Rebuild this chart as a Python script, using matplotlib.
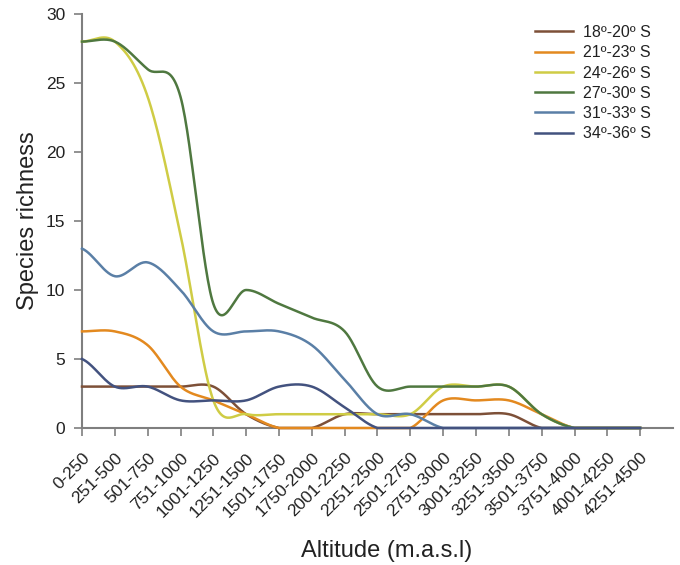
import matplotlib
matplotlib.use("Agg")
import matplotlib.pyplot as plt
import numpy as np

plt.rcParams['font.family'] = ['Liberation Sans', 'DejaVu Sans']

# Altitude bands (m.a.s.l)
altitudes = ['0-250', '251-500', '501-750', '751-1000', '1001-1250', '1251-1500',
             '1501-1750', '1750-2000', '2001-2250', '2251-2500', '2501-2750',
             '2751-3000', '3001-3250', '3251-3500', '3501-3750', '3751-4000',
             '4001-4250', '4251-4500']

# Species richness per latitude band
lat_18_20 = [3, 3, 3, 3, 3, 1, 0, 0, 1, 1, 1, 1, 1, 1, 0, 0, 0, 0]
lat_21_23 = [7, 7, 6, 3, 2, 1, 0, 0, 0, 0, 0, 2, 2, 2, 1, 0, 0, 0]
lat_24_26 = [28, 28, 24, 14, 2, 1, 1, 1, 1, 1, 1, 3, 3, 3, 1, 0, 0, 0]
lat_27_30 = [28, 28, 26, 24, 9, 10, 9, 8, 7, 3, 3, 3, 3, 3, 1, 0, 0, 0]
lat_31_33 = [13, 11, 12, 10, 7, 7, 7, 6, 3.5, 1, 1, 0, 0, 0, 0, 0, 0, 0]
lat_34_36 = [5, 3, 3, 2, 2, 2, 3, 3, 1.5, 0, 0, 0, 0, 0, 0, 0, 0, 0]

labels = ['18º-20º S', '21º-23º S', '24º-26º S', '27º-30º S', '31º-33º S', '34º-36º S']
colors = ['#7d5038', '#e3891f', '#cfcc45', '#4f7840', '#5a7fa6', '#43527f']
series = [lat_18_20, lat_21_23, lat_24_26, lat_27_30, lat_31_33, lat_34_36]


def smooth(values, steps=30):
    # Excel-like smoothed line (Catmull-Rom through the points)
    y = np.asarray(values, dtype=float)
    n = len(y)
    yp = np.concatenate([[y[0]], y, [y[-1]]])
    xs, ys = [], []
    t = np.linspace(0, 1, steps, endpoint=False)
    for i in range(n - 1):
        p0, p1, p2, p3 = yp[i], yp[i + 1], yp[i + 2], yp[i + 3]
        m1 = (p2 - p0) / 2
        m2 = (p3 - p1) / 2
        h00 = 2 * t**3 - 3 * t**2 + 1
        h10 = t**3 - 2 * t**2 + t
        h01 = -2 * t**3 + 3 * t**2
        h11 = t**3 - t**2
        xs.append(i + t)
        ys.append(h00 * p1 + h10 * m1 + h01 * p2 + h11 * m2)
    xs.append([n - 1])
    ys.append([y[-1]])
    return np.concatenate(xs), np.clip(np.concatenate(ys), 0, None)


fig = plt.figure(figsize=(6.8, 5.65), dpi=100)
ax = fig.add_axes([82 / 680, 1 - 428 / 565, (673 - 82) / 680, (428 - 14) / 565])

x = np.arange(len(altitudes))
for vals, lab, col in zip(series, labels, colors):
    sx, sy = smooth(vals)
    ax.plot(sx, sy, color=col, linewidth=1.8, label=lab, zorder=3, clip_on=False)

ax.set_xlim(0, len(altitudes))
ax.set_ylim(0, 30)
ax.set_yticks(range(0, 31, 5))
ax.set_xticks(x)
ax.set_xticklabels(altitudes, rotation=45, ha='right', va='top', rotation_mode='anchor')

axis_col = '#7f7f7f'
for side in ['top', 'right']:
    ax.spines[side].set_visible(False)
for side in ['left', 'bottom']:
    ax.spines[side].set_color(axis_col)
    ax.spines[side].set_linewidth(1.5)
ax.tick_params(axis='both', colors=axis_col, width=1.2, length=6,
               labelcolor='#222222')
ax.tick_params(axis='x', pad=10, labelsize=12.5)
ax.tick_params(axis='y', pad=6, labelsize=12.5)

ax.set_ylabel('Species richness', fontsize=17, color='#222222')
ax.yaxis.set_label_coords(-0.072, 0.5)
ax.set_xlabel('Altitude (m.a.s.l)', fontsize=17, color='#222222')
ax.xaxis.set_label_coords(0.515, -0.27)

ax.legend(loc='upper left', bbox_to_anchor=(535 / 680, 1 - 25 / 565),
          bbox_transform=fig.transFigure, frameon=False, fontsize=11.5,
          handlelength=2.4, handletextpad=0.6, labelspacing=0.33,
          borderpad=0, borderaxespad=0, labelcolor='#222222')

fig.savefig('out.png', dpi=100)
